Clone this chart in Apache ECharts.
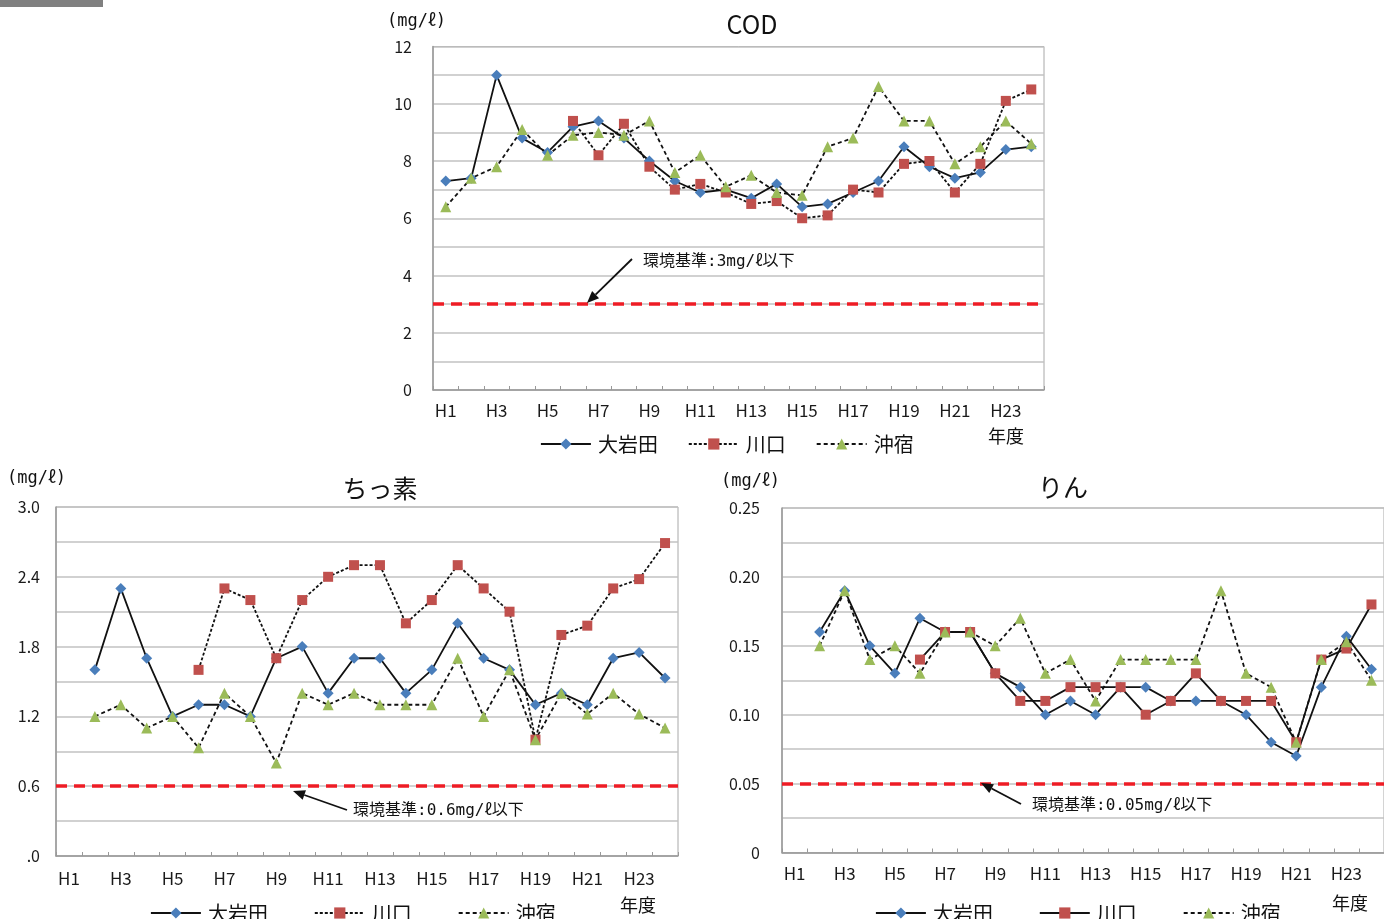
<!DOCTYPE html>
<html>
<head>
<meta charset="utf-8">
<script src="https://cdn.jsdelivr.net/npm/echarts@6/dist/echarts.min.js"></script>
<style>
html,body{margin:0;padding:0;background:#fff;}
#chart{width:1384px;height:919px;}
</style>
</head>
<body>
<div id="chart"></div>
<script>
const years = ['H1','H2','H3','H4','H5','H6','H7','H8','H9','H10','H11','H12','H13','H14','H15','H16','H17','H18','H19','H20','H21','H22','H23','H24'];
const seriesNames = ['大岩田','川口','沖宿'];

// COD (mg/l)
const codOiwada    = [7.3,7.4,11.0,8.8,8.3,9.2,9.4,8.8,8.0,7.3,6.9,7.0,6.7,7.2,6.4,6.5,6.9,7.3,8.5,7.8,7.4,7.6,8.4,8.5];
const codKawaguchi = [null,null,null,null,null,9.4,8.2,9.3,7.8,7.0,7.2,6.9,6.5,6.6,6.0,6.1,7.0,6.9,7.9,8.0,6.9,7.9,10.1,10.5];
const codOkijuku   = [6.4,7.4,7.8,9.1,8.2,8.9,9.0,8.9,9.4,7.6,8.2,7.1,7.5,6.9,6.8,8.5,8.8,10.6,9.4,9.4,7.9,8.5,9.4,8.6];
const codStandard  = 3;

// ちっ素 (mg/l)
const tnOiwada    = [null,1.6,2.3,1.7,1.2,1.3,1.3,1.2,1.7,1.8,1.4,1.7,1.7,1.4,1.6,2.0,1.7,1.6,1.3,1.4,1.3,1.7,1.75,1.53];
const tnKawaguchi = [null,null,null,null,null,1.6,2.3,2.2,1.7,2.2,2.4,2.5,2.5,2.0,2.2,2.5,2.3,2.1,1.0,1.9,1.98,2.3,2.38,2.69];
const tnOkijuku   = [null,1.2,1.3,1.1,1.2,0.93,1.4,1.2,0.8,1.4,1.3,1.4,1.3,1.3,1.3,1.7,1.2,1.6,1.0,1.4,1.22,1.4,1.22,1.1];
const tnStandard  = 0.6;

// りん (mg/l)
const tpOiwada    = [null,0.16,0.19,0.15,0.13,0.17,0.16,0.16,0.13,0.12,0.10,0.11,0.10,0.12,0.12,0.11,0.11,0.11,0.10,0.08,0.07,0.12,0.157,0.133];
const tpKawaguchi = [null,null,null,null,null,0.14,0.16,0.16,0.13,0.11,0.11,0.12,0.12,0.12,0.10,0.11,0.13,0.11,0.11,0.11,0.08,0.14,0.148,0.18];
const tpOkijuku   = [null,0.15,0.19,0.14,0.15,0.13,0.16,0.16,0.15,0.17,0.13,0.14,0.11,0.14,0.14,0.14,0.14,0.19,0.13,0.12,0.08,0.14,0.153,0.125];
const tpStandard  = 0.05;

const FONT = '"Noto Sans CJK JP", "Noto Sans", sans-serif';
const MONO = '"DejaVu Sans Mono", "Noto Sans CJK JP", sans-serif';
const GRID_COLOR = '#c2c2c2';
const AXIS_COLOR = '#999999';
const BLUE = '#4a7ebb', RED = '#c0504d', GREEN = '#9bbb59';

const chart = echarts.init(document.getElementById('chart'));

function xAxis(gridIndex, margin) {
  return {
    type: 'category', gridIndex, data: years, boundaryGap: true,
    axisLine: {lineStyle: {color: AXIS_COLOR, width: 1.5}},
    axisTick: {show: true, inside: true, length: 4, interval: 0, lineStyle: {color: AXIS_COLOR}},
    axisLabel: {interval: 1, fontSize: 17, color: '#1a1a1a', fontFamily: FONT, margin: margin}
  };
}
function yAxis(gridIndex, max, interval, fmt, margin) {
  return {
    type: 'value', gridIndex, min: 0, max, interval,
    axisLine: {show: true, lineStyle: {color: AXIS_COLOR, width: 1.5}},
    axisTick: {show: false},
    minorTick: {show: false, splitNumber: 2},
    splitLine: {show: true, lineStyle: {color: GRID_COLOR, width: 1.6}},
    minorSplitLine: {show: true, lineStyle: {color: GRID_COLOR, width: 1.6}},
    axisLabel: {fontSize: 16, color: '#1a1a1a', fontFamily: FONT, margin: margin, formatter: fmt}
  };
}
function lineSeries(name, data, idx, kind, dashed, standard) {
  const sym = {diamond: ['diamond', 11, BLUE], rect: ['rect', 10, RED], triangle: ['triangle', 11, GREEN]}[kind];
  const s = {
    name, type: 'line', data, xAxisIndex: idx, yAxisIndex: idx,
    symbol: sym[0], symbolSize: sym[1], showAllSymbol: true,
    itemStyle: {color: sym[2]},
    lineStyle: {color: '#111', width: 1.8, type: dashed ? dashed : 'solid'},
    connectNulls: false, animation: false, z: 3
  };
  if (standard !== undefined) {
    s.markLine = {
      silent: true, symbol: ['none','none'], label: {show: false},
      lineStyle: {color: '#ee1c25', width: 3.5, type: [11, 7]},
      data: [{yAxis: standard}], z: 2
    };
  }
  return s;
}

function legend(left, top, gap, kawaguchiDash) {
  return {
    left, top, padding: 0, itemGap: gap, itemWidth: 50, itemHeight: 14, selectedMode: false,
    textStyle: {fontSize: 20, color: '#111', fontFamily: FONT, padding: [0,0,0,2]},
    data: [
      {name: '大岩田', itemStyle: {color: BLUE}, lineStyle: {color: '#111', width: 1.8, type: 'solid'}},
      {name: '川口', itemStyle: {color: RED}, lineStyle: {color: '#111', width: 1.8, type: kawaguchiDash}},
      {name: '沖宿', itemStyle: {color: GREEN}, lineStyle: {color: '#111', width: 1.8, type: [4,3]}}
    ]
  };
}

function arrow(x1, y1, x2, y2) {
  const ang = Math.atan2(y2 - y1, x2 - x1);
  const L = 12, W = 5;
  const bx = x2 - L * Math.cos(ang), by = y2 - L * Math.sin(ang);
  const px = -Math.sin(ang) * W, py = Math.cos(ang) * W;
  return [
    {type: 'line', shape: {x1, y1, x2: bx, y2: by}, style: {stroke: '#111', lineWidth: 1.8}, z: 10},
    {type: 'polygon', shape: {points: [[x2, y2], [bx + px, by + py], [bx - px, by - py]]}, style: {fill: '#111'}, z: 10}
  ];
}
function txt(x, y, text, size, align, family) {
  return {type: 'text', x, y, z: 10, style: {text, fontSize: size, fontFamily: family || FONT, fill: '#111', align: align || 'left', verticalAlign: 'middle'}};
}

const option = {
  backgroundColor: '#fff',
  animation: false,
  grid: [
    {left: 433, top: 46.5, width: 611, height: 343.5, show: true, borderColor: '#a8a8a8', borderWidth: 1, containLabel: false},
    {left: 56, top: 507, width: 622, height: 349, show: true, borderColor: '#a8a8a8', borderWidth: 1, containLabel: false},
    {left: 782, top: 508, width: 609, height: 344.5, show: true, borderColor: '#a8a8a8', borderWidth: 1, containLabel: false}
  ],
  xAxis: [xAxis(0, 12), xAxis(1, 14), xAxis(2, 13)],
  yAxis: [
    yAxis(0, 12, 2, v => String(v), 21),
    yAxis(1, 3.0, 0.6, v => v === 0 ? '.0' : v.toFixed(1), 16),
    yAxis(2, 0.25, 0.05, v => v === 0 ? '0' : v.toFixed(2), 22)
  ],
  legend: [
    legend(540, 434, 30, [3,2]),
    legend(150, 903, 46, [3,2]),
    legend(875, 903, 46, 'solid')
  ],
  series: [
    lineSeries('大岩田', codOiwada, 0, 'diamond', null, codStandard),
    lineSeries('川口', codKawaguchi, 0, 'rect', [3,2]),
    lineSeries('沖宿', codOkijuku, 0, 'triangle', [4,3]),
    lineSeries('大岩田', tnOiwada, 1, 'diamond', null, tnStandard),
    lineSeries('川口', tnKawaguchi, 1, 'rect', [3,2]),
    lineSeries('沖宿', tnOkijuku, 1, 'triangle', [4,3]),
    lineSeries('大岩田', tpOiwada, 2, 'diamond', null, tpStandard),
    lineSeries('川口', tpKawaguchi, 2, 'rect', 'solid'),
    lineSeries('沖宿', tpOkijuku, 2, 'triangle', [4,3])
  ],
  graphic: [
    {type: 'rect', shape: {x: 0, y: 0, width: 103, height: 7}, style: {fill: '#808080'}},
    txt(387, 22, '(mg/ℓ)', 17, 'left', MONO),
    txt(752, 24, 'COD', 25, 'center'),
    txt(7, 479, '(mg/ℓ)', 17, 'left', MONO),
    txt(380, 488, 'ちっ素', 25, 'center'),
    txt(721, 482, '(mg/ℓ)', 17, 'left', MONO),
    txt(1063, 487, 'りん', 25, 'center'),
    txt(1006, 436, '年度', 18, 'center'),
    txt(638, 905, '年度', 18, 'center'),
    txt(1350, 903, '年度', 18, 'center'),
    txt(643, 262, '環境基準:3mg/ℓ以下', 16, 'left', MONO),
    txt(353, 811, '環境基準:0.6mg/ℓ以下', 16, 'left', MONO),
    txt(1032, 806, '環境基準:0.05mg/ℓ以下', 16, 'left', MONO),
    ...arrow(632, 259, 587, 303),
    ...arrow(347, 810, 293, 791),
    ...arrow(1021, 804, 981, 783)
  ]
};
chart.setOption(option);
</script>
</body>
</html>
